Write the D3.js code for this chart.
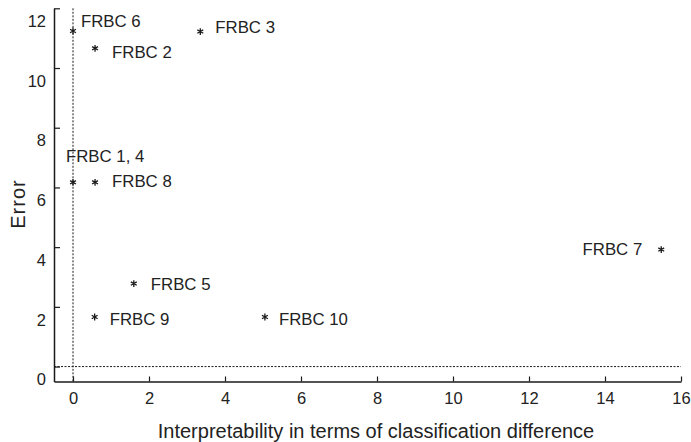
<!DOCTYPE html>
<html>
<head>
<meta charset="utf-8">
<script src="https://cdn.jsdelivr.net/npm/d3@7"></script>
<style>
  html, body { margin: 0; padding: 0; background: #fff; }
  svg { display: block; font-family: "Liberation Sans", Arial, sans-serif; }
</style>
</head>
<body>
<svg id="chart" width="691" height="442"></svg>
<script>
// ---- data ----
const labels = ["FRBC 6", "FRBC 2", "FRBC 3", "FRBC 1, 4", "FRBC 8", "FRBC 7", "FRBC 5", "FRBC 9", "FRBC 10"];
const interpretability = [0, 0.58, 3.35, 0, 0.58, 15.48, 1.6, 0.57, 5.05];
const errorValues = [11.24, 10.66, 11.22, 6.17, 6.17, 3.92, 2.78, 1.66, 1.66];
const xTicks = [0, 2, 4, 6, 8, 10, 12, 14, 16];
const yTicks = [0, 2, 4, 6, 8, 10, 12];
const xTitle = "Interpretability in terms of classification difference";
const yTitle = "Error";

// ---- label placement (layout, px offsets from point) ----
const labelPlacement = [
  { dx: 8, dy: -4, anchor: "start" },
  { dx: 17, dy: 10, anchor: "start" },
  { dx: 15, dy: 1.5, anchor: "start" },
  { dx: -7, dy: -20, anchor: "start" },
  { dx: 17, dy: 5, anchor: "start" },
  { dx: -19, dy: 5, anchor: "end" },
  { dx: 17, dy: 6, anchor: "start" },
  { dx: 15, dy: 7.5, anchor: "start" },
  { dx: 14, dy: 7.5, anchor: "start" }
];

const svg = d3.select("#chart");
const ink = "#1a1a1a";

const x = d3.scaleLinear().domain([-0.5, 16]).range([54, 681]);
const y = d3.scaleLinear().domain([-0.5, 12]).range([381.5, 8.3]);

// reference dashed lines
svg.append("line")
  .attr("x1", x(0)).attr("x2", x(0))
  .attr("y1", y(12)).attr("y2", y(-0.5))
  .attr("stroke", ink).attr("stroke-width", 1).attr("stroke-dasharray", "2,1.5");
svg.append("line")
  .attr("x1", x(-0.5)).attr("x2", x(16))
  .attr("y1", y(0)).attr("y2", y(0))
  .attr("stroke", ink).attr("stroke-width", 1).attr("stroke-dasharray", "2,1.5");

// x axis
const gx = svg.append("g")
  .attr("transform", `translate(0,${y(-0.5)})`)
  .call(d3.axisBottom(x).tickValues(xTicks).tickFormat(d3.format("d"))
    .tickSize(-5).tickSizeOuter(0).tickPadding(11));
gx.select(".domain").attr("stroke", ink).attr("stroke-width", 1.5);
gx.selectAll(".tick line").attr("stroke", ink).attr("stroke-width", 1.2);
gx.selectAll(".tick text").attr("fill", "#222").style("font-size", "16.5px")
  .style("font-family", "Liberation Sans, Arial, sans-serif");

// y axis
const gy = svg.append("g")
  .attr("transform", `translate(${x(-0.5)},0)`)
  .call(d3.axisLeft(y).tickValues(yTicks).tickFormat(d3.format("d"))
    .tickSize(-6).tickSizeOuter(0).tickPadding(8));
gy.select(".domain").attr("stroke", ink).attr("stroke-width", 1.5);
gy.selectAll(".tick line").attr("stroke", ink).attr("stroke-width", 1.2);
gy.selectAll(".tick text").attr("fill", "#222").attr("y", 13).style("font-size", "16.5px")
  .style("font-family", "Liberation Sans, Arial, sans-serif");

// points
const pts = labels.map((l, i) => ({ label: l, x: interpretability[i], y: errorValues[i], p: labelPlacement[i] }));
const sym = d3.symbol().type(d3.symbolAsterisk).size(32);
svg.append("g").selectAll("path").data(pts).join("path")
  .attr("d", sym)
  .attr("transform", d => `translate(${x(d.x)},${y(d.y)})`)
  .attr("fill", "none").attr("stroke", ink).attr("stroke-width", 1.3);

svg.append("g").selectAll("text").data(pts).join("text")
  .attr("x", d => x(d.x) + d.p.dx)
  .attr("y", d => y(d.y) + d.p.dy)
  .attr("text-anchor", d => d.p.anchor)
  .attr("fill", "#222")
  .style("font-size", "16.8px")
  .text(d => d.label);

// axis titles
svg.append("text")
  .attr("x", 376).attr("y", 438)
  .attr("text-anchor", "middle")
  .attr("fill", "#222")
  .style("font-size", "20px")
  .text(xTitle);

svg.append("text")
  .attr("transform", "translate(25,204) rotate(-90)")
  .attr("text-anchor", "middle")
  .attr("fill", "#222")
  .style("font-size", "20px")
  .style("letter-spacing", "1px")
  .text(yTitle);
</script>
</body>
</html>
